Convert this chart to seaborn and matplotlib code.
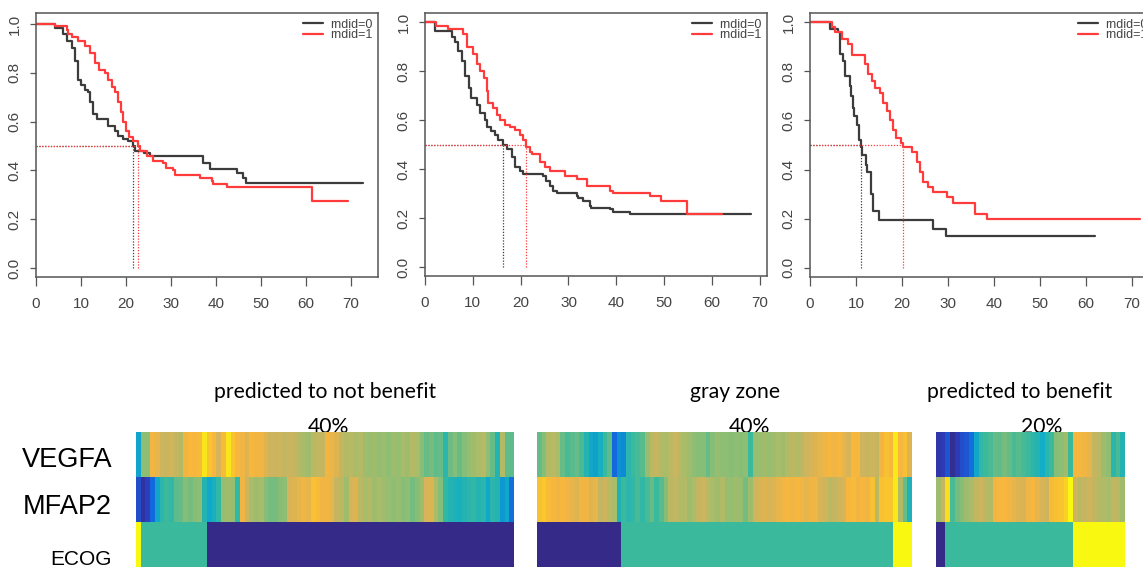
import matplotlib

matplotlib.use("Agg")
import matplotlib.pyplot as plt
import numpy as np
import pandas as pd
import seaborn as sns
from matplotlib import font_manager
from matplotlib.colors import LinearSegmentedColormap

# Kaplan-Meier curves: step time (months) and survival after the step.
# rndid=0 is the grey/black curve, rndid=1 the red one.
p1_time_0 = [0, 4.2, 6.0, 6.8, 7.9, 8.7, 9.4, 10.1, 10.9, 11.6, 12.0, 12.6, 13.5, 16.0, 17.5,
             18.3, 19.4, 20.5, 21.6, 22.0, 23.9, 25.3, 37.2, 38.7, 44.7, 46.0, 46.7, 72.7]
p1_surv_0 = [1.0, 0.985, 0.96, 0.93, 0.90, 0.85, 0.77, 0.75, 0.73, 0.72, 0.68, 0.63, 0.61, 0.58, 0.56,
             0.54, 0.53, 0.52, 0.50, 0.48, 0.47, 0.46, 0.43, 0.405, 0.39, 0.37, 0.35, 0.35]
p1_time_1 = [0, 4.2, 6.8, 7.2, 7.9, 9.4, 10.9, 12.0, 13.1, 14.1, 15.3, 16.1, 16.8, 17.6, 18.3, 18.8,
             19.4, 20.0, 20.7, 21.6, 22.6, 23.1, 24.6, 26.1, 28.3, 28.9, 30.5, 30.9, 36.4, 39.0, 39.4,
             42.4, 61.3, 69.4]
p1_surv_1 = [1.0, 0.99, 0.975, 0.96, 0.945, 0.93, 0.91, 0.88, 0.84, 0.81, 0.80, 0.77, 0.74, 0.72, 0.68, 0.64,
             0.60, 0.56, 0.535, 0.52, 0.50, 0.48, 0.46, 0.44, 0.43, 0.41, 0.40, 0.38, 0.37, 0.355, 0.345,
             0.33, 0.275, 0.275]

p2_time_0 = [0, 2.1, 5.6, 6.3, 7.0, 7.7, 8.4, 9.1, 9.7, 10.8, 11.5, 12.5, 12.9, 13.9, 14.6, 15.3, 16.4,
             17.1, 18.1, 18.8, 19.8, 20.5, 24.7, 25.4, 26.1, 26.8, 27.5, 31.7, 32.0, 33.1, 34.5, 34.8,
             38.6, 39.3, 42.8, 68.2]
p2_surv_0 = [1.0, 0.965, 0.94, 0.92, 0.88, 0.84, 0.78, 0.73, 0.69, 0.66, 0.63, 0.60, 0.57, 0.555, 0.54, 0.52, 0.50,
             0.48, 0.45, 0.41, 0.39, 0.38, 0.37, 0.35, 0.33, 0.31, 0.30, 0.29, 0.28, 0.27, 0.25, 0.24,
             0.235, 0.225, 0.215, 0.215]
p2_time_1 = [0, 2.4, 4.9, 8.0, 8.7, 10.1, 10.8, 11.4, 12.3, 12.9, 13.2, 14.3, 15.0, 15.7, 16.7, 17.8,
             18.8, 19.8, 20.5, 21.2, 21.9, 22.3, 24.0, 25.1, 26.1, 29.2, 31.7, 33.8, 38.6, 39.3, 47.0,
             49.4, 54.7, 62.0]
p2_surv_1 = [1.0, 0.985, 0.97, 0.95, 0.90, 0.87, 0.83, 0.80, 0.77, 0.72, 0.67, 0.65, 0.62, 0.60, 0.58, 0.57,
             0.56, 0.54, 0.52, 0.49, 0.47, 0.46, 0.43, 0.41, 0.39, 0.37, 0.36, 0.33, 0.31, 0.30, 0.29,
             0.27, 0.215, 0.215]

p3_time_0 = [0, 4.35, 6.16, 6.5, 7.25, 7.6, 8.6, 8.9, 9.3, 9.6, 10.3, 10.6, 11.0, 11.3, 12.1, 12.5,
             13.3, 13.6, 14.9, 26.7, 29.6, 62.0]
p3_surv_0 = [1.0, 0.97, 0.96, 0.87, 0.84, 0.78, 0.74, 0.70, 0.65, 0.62, 0.58, 0.52, 0.49, 0.46, 0.42, 0.39,
             0.30, 0.23, 0.195, 0.16, 0.13, 0.13]
p3_time_1 = [0, 4.7, 5.4, 6.9, 8.3, 9.1, 12.0, 12.7, 13.4, 14.1, 15.2, 15.95, 16.7, 17.4, 18.1, 18.7,
             19.7, 20.3, 22.1, 23.2, 23.9, 24.5, 25.7, 26.8, 29.7, 31.2, 35.9, 38.4, 71.8]
p3_surv_1 = [1.0, 0.98, 0.96, 0.93, 0.91, 0.865, 0.83, 0.79, 0.76, 0.73, 0.71, 0.67, 0.64, 0.60, 0.56, 0.53,
             0.51, 0.49, 0.47, 0.43, 0.39, 0.35, 0.33, 0.31, 0.29, 0.265, 0.22, 0.20, 0.20]

km_labels = ["rndid=0", "rndid=1"]
x_ticks = [0, 10, 20, 30, 40, 50, 60, 70]
y_ticks = [0.0, 0.2, 0.4, 0.6, 0.8, 1.0]

# Heatmap groups: scaled expression per patient (0..1 on the colour scale), ECOG as run lengths.
group_titles = ["predicted to not benefit", "gray zone", "predicted to benefit"]
group_shares = ["40%", "40%", "20%"]
row_labels = ["VEGFA", "MFAP2", "ECOG"]

vegfa_a = [0.35, 0.62, 0.62, 0.84, 0.82, 0.76, 0.75, 0.77, 0.74, 0.70,
           0.85, 0.87, 0.86, 0.88, 0.97, 0.92, 0.86, 0.78, 0.88, 0.97,
           0.92, 0.86, 0.84, 0.80, 0.86, 0.85, 0.84, 0.80, 0.76, 0.75,
           0.76, 0.74, 0.75, 0.74, 0.70, 0.68, 0.66, 0.72, 0.73, 0.74,
           0.84, 0.83, 0.80, 0.74, 0.70, 0.72, 0.68, 0.70, 0.66, 0.64,
           0.66, 0.63, 0.65, 0.62, 0.66, 0.64, 0.68, 0.66, 0.70, 0.68,
           0.60, 0.56, 0.58, 0.55, 0.56, 0.46, 0.57, 0.60, 0.56, 0.60,
           0.64, 0.66, 0.68, 0.72, 0.62, 0.56, 0.44, 0.70, 0.55, 0.55]
mfap2_a = [0.14, 0.04, 0.10, 0.20, 0.36, 0.46, 0.50, 0.48, 0.55, 0.56,
           0.60, 0.58, 0.60, 0.62, 0.44, 0.36, 0.40, 0.48, 0.64, 0.66,
           0.64, 0.48, 0.84, 0.76, 0.68, 0.66, 0.68, 0.60, 0.58, 0.58,
           0.60, 0.62, 0.78, 0.80, 0.82, 0.84, 0.82, 0.90, 0.88, 0.84,
           0.84, 0.82, 0.74, 0.72, 0.66, 0.78, 0.80, 0.72, 0.68, 0.70,
           0.66, 0.68, 0.66, 0.64, 0.62, 0.64, 0.60, 0.62, 0.58, 0.60,
           0.66, 0.78, 0.80, 0.68, 0.60, 0.48, 0.44, 0.42, 0.40, 0.44,
           0.46, 0.48, 0.44, 0.46, 0.36, 0.46, 0.44, 0.32, 0.36, 0.22]
vegfa_b = [0.56, 0.60, 0.70, 0.72, 0.68, 0.56, 0.52, 0.54, 0.56, 0.52,
           0.44, 0.36, 0.34, 0.40, 0.50, 0.55, 0.20, 0.30, 0.28, 0.46,
           0.50, 0.52, 0.54, 0.64, 0.72, 0.74, 0.70, 0.68, 0.72, 0.76,
           0.72, 0.68, 0.66, 0.62, 0.60, 0.60, 0.56, 0.60, 0.64, 0.62,
           0.62, 0.60, 0.62, 0.60, 0.62, 0.50, 0.64, 0.64, 0.66, 0.64,
           0.66, 0.68, 0.66, 0.70, 0.72, 0.70, 0.72, 0.76, 0.78, 0.80,
           0.82, 0.84, 0.86, 0.84, 0.86, 0.82, 0.78, 0.86, 0.86, 0.76,
           0.74, 0.76, 0.74, 0.84, 0.90, 0.86, 0.98, 0.86, 0.90, 0.80]
mfap2_b = [0.90, 0.93, 0.88, 0.86, 0.84, 0.86, 0.84, 0.82, 0.80, 0.84,
           0.84, 0.80, 0.82, 0.74, 0.76, 0.72, 0.68, 0.42, 0.50, 0.46,
           0.48, 0.52, 0.48, 0.52, 0.56, 0.50, 0.54, 0.60, 0.72, 0.74,
           0.70, 0.70, 0.66, 0.68, 0.74, 0.76, 0.72, 0.68, 0.66, 0.70,
           0.64, 0.64, 0.66, 0.64, 0.58, 0.66, 0.76, 0.78, 0.80, 0.78,
           0.80, 0.82, 0.84, 0.86, 0.84, 0.86, 0.84, 0.82, 0.84, 0.84,
           0.78, 0.76, 0.72, 0.74, 0.76, 0.78, 0.86, 0.88, 0.84, 0.86,
           0.84, 0.90, 0.72, 0.90, 0.92, 0.92, 0.98, 0.70, 0.56, 0.42]
vegfa_c = [0.06, 0.08, 0.16, 0.02, 0.08, 0.14, 0.16, 0.22, 0.36, 0.48,
           0.50, 0.52, 0.56, 0.55, 0.58, 0.56, 0.52, 0.54, 0.52, 0.50,
           0.46, 0.44, 0.38, 0.46, 0.50, 0.60, 0.62, 0.66, 0.50, 0.86,
           0.86, 0.84, 0.82, 0.74, 0.72, 0.66, 0.62, 0.46, 0.52, 0.44]
mfap2_c = [0.66, 0.74, 0.96, 0.52, 0.58, 0.60, 0.66, 0.68, 0.74, 0.76,
           0.72, 0.70, 0.84, 0.86, 0.86, 0.84, 0.82, 0.80, 0.78, 0.84,
           0.86, 0.82, 0.78, 0.76, 0.88, 0.90, 0.92, 0.94, 1.00, 0.76,
           0.72, 0.74, 0.76, 0.74, 0.70, 0.70, 0.68, 0.74, 0.72, 0.66]

ecog_a_levels, ecog_a_counts = [2, 1, 0], [1, 14, 65]
ecog_b_levels, ecog_b_counts = [0, 1, 2], [18, 58, 4]
ecog_c_levels, ecog_c_counts = [0, 1, 2], [2, 27, 11]

W, H = 1143, 569
GREY_LINE = "#3c3c3c"
RED_LINE = "#ff3b3b"
AXIS_GREY = "#555555"

PARULA_LIKE = LinearSegmentedColormap.from_list(
    "parula_like",
    list(zip(
        [0.0, 0.10, 0.20, 0.30, 0.38, 0.50, 0.60, 0.68, 0.76, 0.86, 0.93, 1.0],
        ["#352a87", "#2a3fc0", "#1467dc", "#0c93d2", "#12adc6", "#38b99e",
         "#86bd77", "#a8bc69", "#cdb45d", "#f7b53e", "#f9c72c", "#f8f810"],
    )),
)


def _pick_font(candidates: list[str]) -> str:
    """Return the first installed family of the candidates."""
    installed = {f.name for f in font_manager.fontManager.ttflist}
    for name in candidates:
        if name in installed:
            return name
    return "DejaVu Sans"


def _px_axes(fig, left, top, right, bottom):
    """Add axes from pixel edges measured on the reference."""
    return fig.add_axes([left / W, 1 - bottom / H, (right - left) / W, (bottom - top) / H])


def _median_time(time, surv):
    surv = np.asarray(surv)
    hit = np.nonzero(surv <= 0.5)[0]
    return float(time[hit[0]]) if hit.size else None


def _plot_km(ax, curves, xmax, ylim, font):
    """Two-arm step curves with dotted median guides, R base-graphics look."""
    for (time, surv), color, label in zip(curves, [GREY_LINE, RED_LINE], km_labels):
        sns.lineplot(x=time, y=surv, ax=ax, color=color, linewidth=1.6,
                     drawstyle="steps-post", estimator=None, sort=False, label=label)
    for (time, surv), color in zip(curves, [GREY_LINE, RED_LINE]):
        med = _median_time(time, surv)
        if med is None:
            continue
        ax.hlines(0.5, 0, med, colors=color, linestyles=(0, (1, 1.3)), linewidth=0.9)
        ax.vlines(med, 0, 0.5, colors=color, linestyles=(0, (1, 1.3)), linewidth=0.9)

    ax.set_xlim(0, xmax)
    ax.set_ylim(*ylim)
    ax.set_xticks(x_ticks)
    ax.set_xticklabels([str(t) for t in x_ticks], fontfamily=font)
    ax.set_yticks(y_ticks)
    ax.set_yticklabels([f"{v:.1f}" for v in y_ticks], rotation=90, va="center", fontfamily=font)
    ax.tick_params(axis="x", length=6.5, width=0.9, pad=8, color=AXIS_GREY,
                   labelcolor="#444444", labelsize=11)
    ax.tick_params(axis="y", length=4.3, width=0.9, pad=6, color=AXIS_GREY,
                   labelcolor="#444444", labelsize=11)
    for spine in ax.spines.values():
        spine.set_visible(True)
        spine.set_color(AXIS_GREY)
        spine.set_linewidth(1.1)
    ax.set_xlabel("")
    ax.set_ylabel("")
    ax.grid(False)
    leg = ax.legend(loc="upper right", frameon=False, borderaxespad=0.25, borderpad=0.2,
                    handlelength=1.6, handletextpad=0.6, labelspacing=-0.1,
                    prop={"family": font, "size": 9})
    for text in leg.get_texts():
        text.set_color("#444444")


def _plot_group(fig, edges, vegfa, mfap2, levels, counts):
    left, right = edges
    genes = pd.DataFrame([vegfa, mfap2], index=row_labels[:2])
    ax_g = _px_axes(fig, left, 432, right, 522)
    sns.heatmap(genes, ax=ax_g, cmap=PARULA_LIKE, vmin=0, vmax=1, cbar=False,
                xticklabels=False, yticklabels=False)
    ecog = pd.DataFrame([np.repeat(levels, counts)], index=row_labels[2:])
    ax_e = _px_axes(fig, left, 522, right, 567)
    sns.heatmap(ecog, ax=ax_e, cmap=PARULA_LIKE, vmin=0, vmax=2, cbar=False,
                xticklabels=False, yticklabels=False)


def main() -> None:
    sns.set_theme(style="ticks")
    label_font = _pick_font(["Liberation Sans Narrow", "Liberation Sans", "DejaVu Sans"])
    title_font = _pick_font(["Lato", "Open Sans", "Noto Sans"])
    plt.rcParams["font.family"] = [label_font, "DejaVu Sans"]

    fig = plt.figure(figsize=(W / 100, H / 100), dpi=100)
    fig.patch.set_facecolor("white")

    panels = [
        ((36, 13, 378, 277), 76.0, (-0.037, 1.045),
         [(p1_time_0, p1_surv_0), (p1_time_1, p1_surv_1)]),
        ((425, 13, 767, 276), 71.5, (-0.037, 1.037),
         [(p2_time_0, p2_surv_0), (p2_time_1, p2_surv_1)]),
        ((810, 13, 1153, 277), 74.6, (-0.037, 1.037),
         [(p3_time_0, p3_surv_0), (p3_time_1, p3_surv_1)]),
    ]
    for box, xmax, ylim, curves in panels:
        ax = _px_axes(fig, *box)
        _plot_km(ax, curves, xmax, ylim, label_font)

    groups = [
        ((136, 514), vegfa_a, mfap2_a, ecog_a_levels, ecog_a_counts),
        ((537, 912), vegfa_b, mfap2_b, ecog_b_levels, ecog_b_counts),
        ((936, 1125), vegfa_c, mfap2_c, ecog_c_levels, ecog_c_counts),
    ]
    for edges, vegfa, mfap2, levels, counts in groups:
        _plot_group(fig, edges, vegfa, mfap2, levels, counts)

    title_x = [325, 735, 1020]
    share_x = [328, 749, 1042]
    for title, share, tx, sx in zip(group_titles, group_shares, title_x, share_x):
        fig.text(tx / W, 1 - 398 / H, title, ha="center", va="baseline",
                 fontsize=15.2, family=title_font, color="black")
        fig.text(sx / W, 1 - 433 / H, share, ha="center", va="baseline",
                 fontsize=15.2, family=title_font, color="black", zorder=-1)

    for label, base, size in zip(row_labels, [467, 514, 565], [19.5, 19.5, 15]):
        fig.text(112 / W, 1 - base / H, label, ha="right", va="baseline",
                 fontsize=size, family=label_font, color="black")

    fig.savefig("out.png", dpi=100, facecolor="white")
    plt.close(fig)


if __name__ == "__main__":
    main()
